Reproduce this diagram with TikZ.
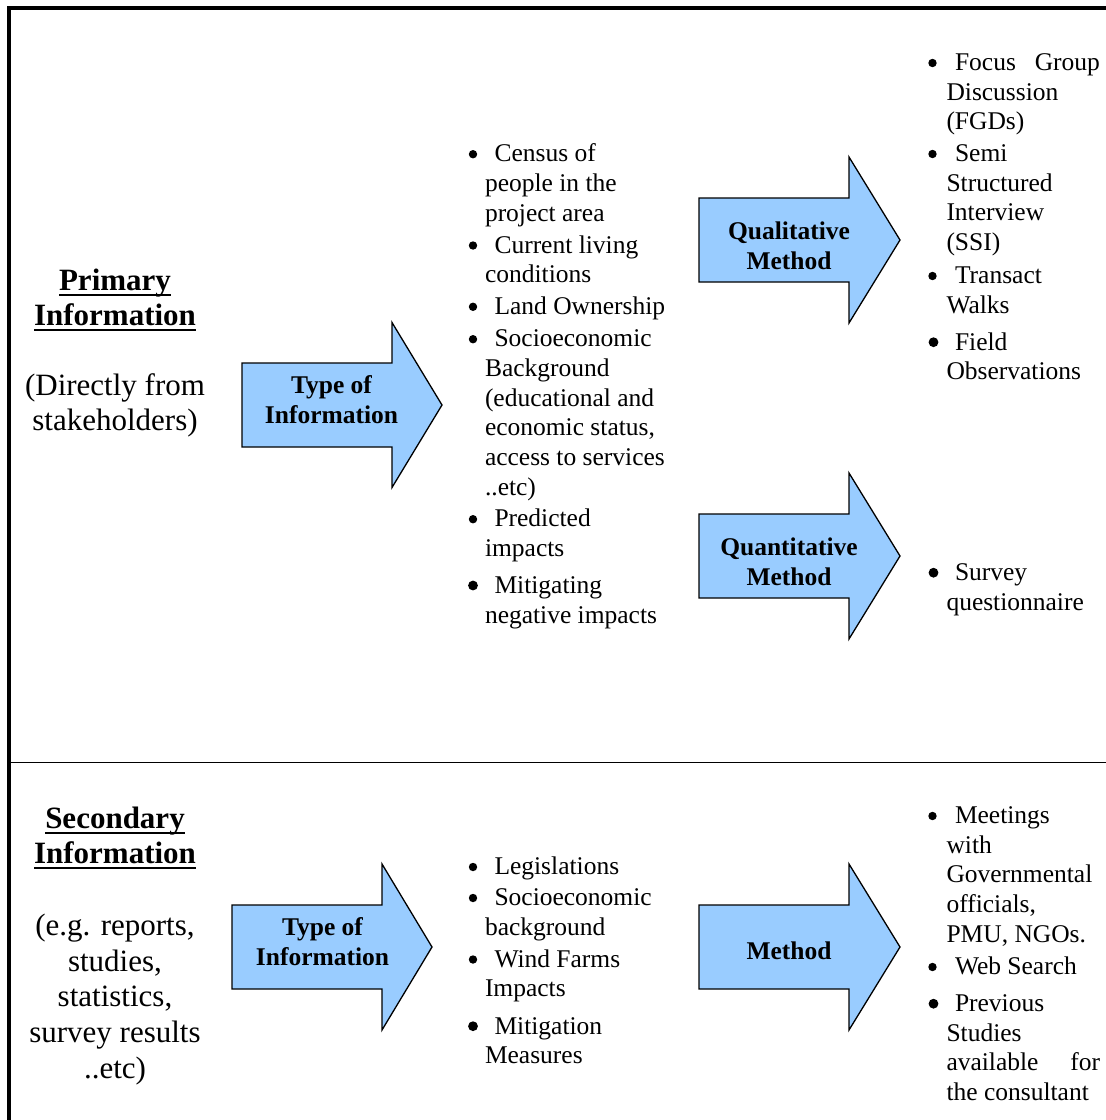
\documentclass[tikz,border=0pt]{standalone}
\usepackage{fontspec}
\setmainfont{Liberation Serif}
\definecolor{arrowblue}{HTML}{99CCFF}
\newcommand\Ln[1]{\hbox{#1}}
\newcommand\Fm[1]{\hbox{\hspace*{9.5pt}#1}}
\newcommand\Fr[1]{\hbox{\hspace*{8.5pt}#1}}
\newcommand\Cn[1]{\hbox to 0pt{\hss#1\hss}}
\newcommand\Lines[2][29.7pt]{\vtop{\baselineskip=#1\lineskiplimit=-40pt\lineskip=0pt#2}}
\newcommand\Ulw[1]{\setbox0\hbox{#1}\rlap{\rule[-5.7pt]{\wd0}{2.2pt}}\box0}
\begin{document}
\begin{tikzpicture}[x=1pt,y=-1pt,
  txt/.style={inner sep=0pt,outer sep=0pt,anchor=base west,font=\fontsize{25.5}{29.7}\selectfont},
  ctr/.style={inner sep=0pt,outer sep=0pt,anchor=base},
  lbl/.style={ctr,font=\fontsize{25.5}{30}\selectfont\bfseries},
  side/.style={ctr,font=\fontsize{31}{35.5}\selectfont},
  heading/.style={ctr,font=\fontsize{31}{35.3}\selectfont\bfseries},
  blockarrow/.style={draw=black,line width=1.3pt,fill=arrowblue,line join=miter},
  frame/.style={line width=4.5pt,line join=miter},
  divider/.style={line width=1.4pt}]
\useasboundingbox (0,0) rectangle (1106,1120);
% frame
\draw[frame] (9,1120) -- (9,8) -- (1106,8);
\draw[divider] (11,762.3) -- (1106,762.3);

% block arrows: body left, head base, tip x, centre y, body half height, head half height
\newcommand\BlockArrow[6]{%
  \draw[blockarrow] (#1,#4-#5) -- (#2,#4-#5) -- (#2,#4-#6) -- (#3,#4)
    -- (#2,#4+#6) -- (#2,#4+#5) -- (#1,#4+#5) -- cycle;}
\BlockArrow{242}{392}{442}{405}{42}{82.5}
\BlockArrow{699}{849}{900}{240}{42}{83}
\BlockArrow{699}{849}{900}{556}{42}{83}
\BlockArrow{232}{382}{432}{947}{42}{83}
\BlockArrow{699}{849}{900}{947}{42}{83}

% arrow labels
\node[lbl] (typeA) at (331.5,393.3) {\Lines[30pt]{\Cn{Type of}\Cn{Information}}};
\node[lbl] (qual) at (789,239.3) {\Lines[30.5pt]{\Cn{Qualitative}\Cn{Method}}};
\node[lbl] (quant) at (789,555.5) {\Lines[30pt]{\Cn{Quantitative}\Cn{Method}}};
\node[lbl] (typeB) at (322.5,935.5) {\Lines[30pt]{\Cn{Type of}\Cn{Information}}};
\node[lbl] (meth) at (789,959) {Method};

% left headings
\node[heading] (prim) at (115,290) {\Lines[35.3pt]{\Cn{\Ulw{Primary}}\Cn{\Ulw{Information}}}};
\node[side] (primsub) at (115,395.5) {\Lines[35.3pt]{\Cn{(Directly from}\Cn{stakeholders)}}};
\node[heading] (sec) at (115,828.3) {\Lines[35.3pt]{\Cn{\Ulw{Secondary}}\Cn{\Ulw{Information}}}};
\node[side] (secsub) at (115,935.8) {\Lines[35.55pt]{\Cn{(e.g. reports,}\Cn{studies,}\Cn{statistics,}\Cn{survey results}\Cn{..etc)}}};

% middle column, primary
\node[txt] (m1) at (485,161.7) {\Lines{\Fm{Census of}\Ln{people in the}\Ln{project area}}};
\node[txt] (m2) at (485,253) {\Lines{\Fm{Current living}\Ln{conditions}}};
\node[txt] (m3) at (485,314.3) {\Lines{\Fm{Land Ownership}}};
\node[txt] (m4) at (485,346.7) {\Lines{\Fm{Socioeconomic}\Ln{Background}\Ln{(educational and}\Ln{economic status,}\Ln{access to services}\Ln{..etc)}}};
\node[txt] (m5) at (485,526.7) {\Lines{\Fm{Predicted}\Ln{impacts}}};
\node[txt] (m6) at (485,593.3) {\Lines{\Fm{Mitigating}\Ln{negative impacts}}};
\foreach \n in {m1,m2,m3,m4,m5}
  \fill ([xshift=-12pt,yshift=7.5pt]\n.base west) circle (4.2pt);
\fill ([xshift=-12pt,yshift=7.8pt]m6.base west) circle (4.9pt);

% right column, primary
\node[txt] (r1) at (946.5,70.5) {\Lines{\hbox to 153.5pt{\hspace*{8.5pt}Focus\hfill Group}\Ln{Discussion}\Ln{(FGDs)}}};
\node[txt] (r2) at (946.5,161.5) {\Lines{\Fr{Semi}\Ln{Structured}\Ln{Interview}\Ln{(SSI)}}};
\node[txt] (r3) at (946.5,283.5) {\Lines{\Fr{Transact}\Ln{Walks}}};
\node[txt] (r4) at (946.5,350) {\Lines{\Fr{Field}\Ln{Observations}}};
\node[txt] (r5) at (946.5,580.5) {\Lines{\Fr{Survey}\Ln{questionnaire}}};
\foreach \n in {r1,r2,r3}
  \fill ([xshift=-14pt,yshift=7.5pt]\n.base west) circle (4.2pt);
\foreach \n in {r4,r5}
  \fill ([xshift=-13pt,yshift=7.8pt]\n.base west) circle (4.9pt);

% middle column, secondary
\node[txt] (s1) at (485,874.5) {\Lines{\Fm{Legislations}}};
\node[txt] (s2) at (485,905.5) {\Lines{\Fm{Socioeconomic}\Ln{background}}};
\node[txt] (s3) at (485,967) {\Lines{\Fm{Wind Farms}\Ln{Impacts}}};
\node[txt] (s4) at (485,1034) {\Lines{\Fm{Mitigation}\Ln{Measures}}};
\foreach \n in {s1,s2,s3}
  \fill ([xshift=-12pt,yshift=7.5pt]\n.base west) circle (4.2pt);
\fill ([xshift=-12pt,yshift=7.8pt]s4.base west) circle (4.9pt);

% right column, secondary
\node[txt] (t1) at (946.5,823.5) {\Lines{\Fr{Meetings}\Ln{with}\Ln{Governmental}\Ln{officials,}\Ln{PMU, NGOs.}}};
\node[txt] (t2) at (946.5,974.5) {\Lines{\Fr{Web Search}}};
\node[txt] (t3) at (946.5,1011.5) {\Lines{\Fr{Previous}\Ln{Studies}\hbox to 153.5pt{available\hfill for}\Ln{the consultant}}};
\foreach \n in {t1,t2}
  \fill ([xshift=-14pt,yshift=7.5pt]\n.base west) circle (4.2pt);
\fill ([xshift=-13pt,yshift=7.8pt]t3.base west) circle (4.9pt);
\end{tikzpicture}
\end{document}
